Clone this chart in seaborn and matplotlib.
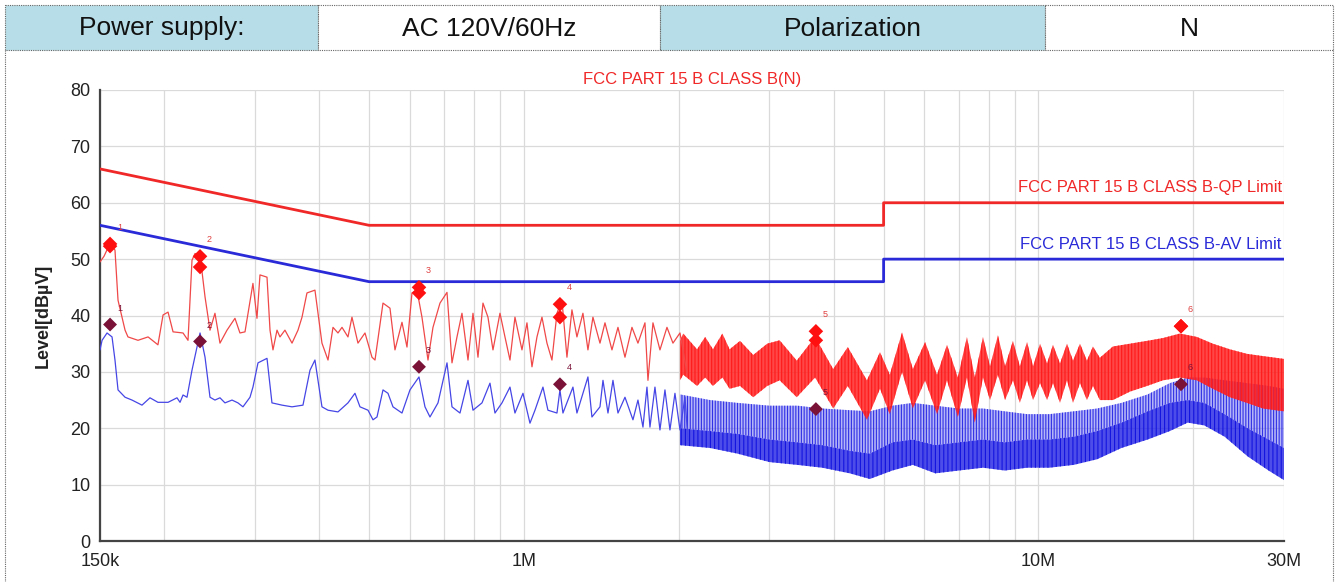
import matplotlib
matplotlib.use("Agg")
import matplotlib.pyplot as plt
import seaborn as sns
from matplotlib.patches import Rectangle
from matplotlib.ticker import FixedLocator, FixedFormatter, NullFormatter

# ---------------- data ----------------
header_labels = ["Power supply:", "AC 120V/60Hz", "Polarization", "N"]
chart_title = "FCC PART 15 B CLASS B(N)"
qp_limit_label = "FCC PART 15 B CLASS B-QP Limit"
av_limit_label = "FCC PART 15 B CLASS B-AV Limit"
y_label = "Level[dBµV]"

x_tick_values = [0.15, 1.0, 10.0, 30.0]
x_tick_labels = ["150k", "1M", "10M", "30M"]
x_minor_values = [0.2, 0.3, 0.4, 0.5, 0.6, 0.7, 0.8, 0.9,
                  2, 3, 4, 5, 6, 7, 8, 9, 20]
y_tick_values = [0, 10, 20, 30, 40, 50, 60, 70, 80]

limit_freq_mhz = [0.15, 0.5, 5.0, 5.0, 30.0]
qp_limit_db = [66, 56, 56, 60, 60]
av_limit_db = [56, 46, 46, 50, 50]

# peak (red) scan, 150 kHz - 2 MHz
peak_freq_mhz = [
    0.1500, 0.1527, 0.1569, 0.1604, 0.1626, 0.1678, 0.1700, 0.1778, 0.1860, 0.1944,
    0.1989, 0.2034, 0.2080, 0.2175, 0.2224, 0.2264, 0.2295, 0.2347, 0.2400, 0.2454,
    0.2509, 0.2566, 0.2648, 0.2744, 0.2806, 0.2870, 0.2974, 0.3028, 0.3069, 0.3167,
    0.3210, 0.3253, 0.3312, 0.3356, 0.3432, 0.3542, 0.3638, 0.3704, 0.3787, 0.3925,
    0.4050, 0.4161, 0.4255, 0.4351, 0.4430, 0.4550, 0.4632, 0.4758, 0.4910, 0.5066,
    0.5135, 0.5322, 0.5491, 0.5615, 0.5794, 0.5925, 0.6059, 0.6196, 0.6336, 0.6509,
    0.6656, 0.6868, 0.7087, 0.7247, 0.7411, 0.7578, 0.7785, 0.7961, 0.8141, 0.8325,
    0.8513, 0.8706, 0.8983, 0.9186, 0.9394, 0.9606, 0.9912, 1.0136, 1.0366, 1.0600,
    1.0840, 1.1085, 1.1335, 1.1592, 1.1854, 1.2122, 1.2396, 1.2676, 1.3021, 1.3316,
    1.3617, 1.4053, 1.4371, 1.4827, 1.5231, 1.5716, 1.6215, 1.6656, 1.7187, 1.7419,
    1.7813, 1.8380, 1.8965, 1.9481, 2.0102, 2.0742]
peak_level_db = [
    49.5, 50.5, 52.8, 51.6, 42.7, 37.4, 36.2, 35.6, 36.2, 34.8,
    40.1, 40.6, 37.1, 36.9, 35.6, 49.8, 51.0, 50.7, 43.3, 37.4,
    40.4, 35.1, 37.4, 39.5, 36.9, 37.1, 45.7, 39.5, 47.2, 46.8,
    37.4, 33.9, 37.4, 36.2, 37.4, 35.1, 37.4, 39.7, 44.0, 44.5,
    35.1, 32.1, 37.9, 36.9, 37.9, 36.2, 39.7, 35.1, 36.9, 32.6,
    32.1, 42.2, 41.3, 33.9, 38.8, 34.4, 44.0, 44.5, 39.7, 32.1,
    37.9, 42.2, 44.1, 31.6, 36.2, 40.4, 32.1, 40.4, 32.6, 42.2,
    39.7, 33.9, 40.4, 36.2, 32.1, 39.7, 33.9, 38.7, 30.9, 36.2,
    39.7, 35.1, 32.1, 40.4, 42.7, 32.6, 41.0, 36.2, 40.4, 33.9,
    39.7, 35.1, 38.7, 33.9, 37.9, 32.6, 37.9, 35.1, 38.7, 28.5,
    38.7, 33.9, 37.9, 35.1, 36.9, 29.8]

# peak (red) scan, 2 - 30 MHz dense region: envelope at each wave extreme
red_band_freq_mhz = [
    2.01, 2.04, 2.17, 2.25, 2.33, 2.43, 2.51, 2.63, 2.79, 2.97,
    3.14, 3.39, 3.68, 3.99, 4.26, 4.64, 4.92, 5.14, 5.43, 5.70,
    6.02, 6.35, 6.64, 6.97, 7.26, 7.52, 7.80, 8.05, 8.34, 8.61,
    8.92, 9.20, 9.50, 9.76, 10.07, 10.39, 10.67, 11.01, 11.36, 11.67,
    12.04, 12.42, 12.76, 13.16, 13.95, 15.06, 16.25, 17.45, 18.83, 20.31,
    21.82, 23.55, 25.41, 27.30, 30.0]
red_band_upper_db = [
    35.5, 36.8, 34.0, 36.2, 34.0, 36.8, 34.0, 35.5, 33.0, 35.0,
    35.6, 32.0, 36.2, 30.5, 34.4, 28.5, 33.5, 29.5, 37.0, 30.5,
    35.3, 29.5, 34.8, 29.0, 36.2, 29.0, 36.2, 31.0, 36.5, 31.0,
    35.5, 31.0, 35.3, 31.0, 35.0, 31.5, 34.8, 31.5, 35.0, 32.0,
    35.0, 32.0, 34.5, 32.5, 34.5, 35.0, 35.5, 36.0, 36.8, 36.2,
    35.0, 34.0, 33.2, 32.8, 32.3]
red_band_lower_db = [
    28.5, 29.5, 27.5, 29.0, 27.5, 29.0, 27.0, 27.5, 25.5, 27.5,
    28.5, 25.5, 29.0, 23.5, 27.5, 21.5, 27.0, 22.5, 30.0, 23.5,
    28.5, 22.5, 28.5, 22.0, 29.0, 21.0, 29.0, 25.0, 29.5, 25.0,
    28.5, 24.5, 28.5, 25.0, 28.0, 25.0, 28.0, 24.5, 28.5, 24.5,
    28.0, 25.0, 27.5, 25.0, 25.0, 26.5, 27.5, 28.5, 29.0, 28.5,
    27.0, 25.5, 24.5, 23.5, 23.0]

# average (blue) scan, 150 kHz - 2 MHz
avg_freq_mhz = [
    0.1500, 0.1514, 0.1548, 0.1583, 0.1604, 0.1626, 0.1678, 0.1731, 0.1810, 0.1876,
    0.1944, 0.2034, 0.2117, 0.2146, 0.2175, 0.2214, 0.2264, 0.2347, 0.2400, 0.2454,
    0.2509, 0.2566, 0.2624, 0.2708, 0.2781, 0.2844, 0.2935, 0.2974, 0.3042, 0.3167,
    0.3238, 0.3387, 0.3542, 0.3720, 0.3839, 0.3925, 0.4050, 0.4161, 0.4351, 0.4550,
    0.4695, 0.4801, 0.4977, 0.5089, 0.5181, 0.5322, 0.5442, 0.5565, 0.5794, 0.6005,
    0.6252, 0.6422, 0.6567, 0.6807, 0.7087, 0.7247, 0.7511, 0.7785, 0.7961, 0.8288,
    0.8590, 0.8784, 0.9064, 0.9394, 0.9606, 0.9957, 1.0273, 1.0506, 1.0888, 1.1134,
    1.1592, 1.1748, 1.1907, 1.2452, 1.2676, 1.3316, 1.3556, 1.4053, 1.4243, 1.4565,
    1.4894, 1.5231, 1.5716, 1.6288, 1.6656, 1.7034, 1.7341, 1.7575, 1.7973, 1.8380,
    1.8795, 1.9220, 1.9655, 2.0102, 2.0558, 2.0835]
avg_level_db = [
    33.9, 35.6, 36.9, 36.2, 32.1, 26.8, 25.5, 25.0, 24.1, 25.4,
    24.6, 24.6, 25.4, 24.6, 25.9, 25.5, 30.3, 36.9, 32.6, 25.5,
    25.0, 25.4, 24.5, 25.0, 24.5, 23.8, 25.5, 27.3, 31.6, 32.4,
    24.5, 24.1, 23.8, 24.1, 30.3, 32.1, 23.8, 23.2, 22.9, 24.5,
    26.2, 23.8, 23.2, 21.5, 22.0, 26.8, 26.2, 23.8, 22.7, 26.8,
    29.1, 23.8, 22.0, 24.5, 31.6, 23.8, 22.7, 28.5, 23.2, 24.5,
    28.0, 22.7, 24.5, 27.3, 22.7, 26.2, 20.9, 23.2, 27.3, 23.2,
    22.7, 26.8, 22.7, 27.3, 22.7, 29.1, 22.0, 23.8, 28.5, 22.7,
    28.5, 22.7, 25.5, 21.5, 25.0, 20.2, 27.3, 20.2, 27.3, 19.7,
    26.8, 19.7, 26.2, 19.7, 25.5, 17.9]

# average (blue) scan, 2 - 30 MHz dense region
blue_band_freq_mhz = [
    2.01, 2.3, 2.6, 3.0, 3.4, 3.8, 4.3, 4.7, 5.2, 5.7,
    6.3, 7.0, 7.8, 8.6, 9.5, 10.5, 11.7, 13.0, 14.5, 16.3,
    18.0, 19.5, 21.0, 23.0, 25.5, 28.0, 30.0]
blue_band_lower_db = [
    17.0, 16.5, 15.5, 14.0, 13.5, 13.0, 12.0, 11.0, 12.5, 13.5,
    12.0, 12.5, 13.0, 12.5, 13.0, 13.0, 13.5, 14.5, 16.5, 18.0,
    19.5, 21.0, 20.5, 18.5, 15.0, 12.5, 10.8]
blue_band_base_db = [
    20.0, 19.5, 19.0, 18.0, 17.5, 17.0, 16.0, 15.5, 17.5, 18.0,
    17.0, 17.5, 18.0, 17.5, 18.0, 18.0, 18.5, 19.5, 21.0, 23.0,
    24.5, 25.0, 24.5, 22.5, 20.0, 18.0, 16.5]
blue_band_top_db = [
    26.0, 25.0, 24.5, 24.0, 24.0, 23.5, 23.2, 23.0, 24.0, 24.5,
    24.0, 23.5, 23.5, 23.0, 22.5, 22.5, 23.0, 23.5, 24.5, 26.0,
    28.0, 29.0, 29.0, 28.5, 28.0, 27.5, 27.0]

# final measurement markers
marker_ids = ["1", "2", "3", "4", "5", "6"]
marker_freq_mhz = [0.1569, 0.2347, 0.6252, 1.1748, 3.693, 18.92]
marker_peak_db = [52.7, 50.5, 45.0, 42.0, 37.2, 38.1]
marker_qp_db = [52.3, 48.6, 44.0, 39.7, 35.6, 38.1]
marker_av_db = [38.4, 35.4, 30.9, 27.8, 23.4, 27.8]

# ---------------- style ----------------
sns.set_style("white")
plt.rcParams["font.family"] = ["Liberation Sans", "DejaVu Sans"]
plt.rcParams["hatch.linewidth"] = 0.8

RED = "#f02828"
RED_TRACE = "#f04848"
BLUE = "#2a2ad8"
BLUE_TRACE = "#4646e6"
MAROON = "#7a1238"
HEADER_BLUE = "#b7dee8"

W, H = 1338, 582
fig = plt.figure(figsize=(W / 100, H / 100), dpi=100)
fig.patch.set_facecolor("white")

# header / frame overlay (pixel coordinates)
hax = fig.add_axes([0, 0, 1, 1])
hax.set_xlim(0, W)
hax.set_ylim(H, 0)
hax.axis("off")
hax.patch.set_visible(False)
cells = [(5, 318, HEADER_BLUE), (318, 660, "white"), (660, 1045, HEADER_BLUE), (1045, 1333, "white")]
for (x0, x1, fc), txt in zip(cells, header_labels):
    hax.add_patch(Rectangle((x0, 5), x1 - x0, 45, facecolor=fc, edgecolor="#666666",
                            linestyle=(0, (1, 1)), linewidth=0.8))
    hax.text((x0 + x1) / 2, 28.5, txt, ha="center", va="center", fontsize=19, color="#111111")
hax.plot([5, 5], [50, H], color="#666666", linestyle=(0, (1, 1)), linewidth=0.8)
hax.plot([1333, 1333], [50, H], color="#666666", linestyle=(0, (1, 1)), linewidth=0.8)

ax = fig.add_axes([100 / W, 41 / H, 1184 / W, 451 / H])
ax.set_xscale("log")

# dense-region bands
ax.fill_between(blue_band_freq_mhz, blue_band_base_db, blue_band_top_db,
                facecolor=(0.42, 0.42, 0.95, 0.5), edgecolor="#3030e6",
                hatch="||||||", linewidth=0, zorder=2)
ax.fill_between(blue_band_freq_mhz, blue_band_lower_db, blue_band_base_db,
                facecolor=(0.15, 0.15, 0.9, 0.82), edgecolor="#1414e0",
                hatch="||||", linewidth=0, zorder=2)
ax.fill_between(red_band_freq_mhz, red_band_lower_db, red_band_upper_db,
                facecolor=(1.0, 0.12, 0.12, 0.82), edgecolor="#ff1a1a",
                hatch="|||||", linewidth=0, zorder=3)

# traces
sns.lineplot(x=avg_freq_mhz, y=avg_level_db, ax=ax, color=BLUE_TRACE, linewidth=0.9,
             estimator=None, sort=False, zorder=3)
sns.lineplot(x=peak_freq_mhz, y=peak_level_db, ax=ax, color=RED_TRACE, linewidth=0.9,
             estimator=None, sort=False, zorder=3)

# limits
sns.lineplot(x=limit_freq_mhz, y=qp_limit_db, ax=ax, color=RED, linewidth=2,
             estimator=None, sort=False, zorder=4)
sns.lineplot(x=limit_freq_mhz, y=av_limit_db, ax=ax, color=BLUE, linewidth=2,
             estimator=None, sort=False, zorder=4)

# markers
sns.scatterplot(x=marker_freq_mhz, y=marker_peak_db, ax=ax, marker="D", s=55,
                color="#ff1010", edgecolor="none", zorder=6)
sns.scatterplot(x=marker_freq_mhz, y=marker_qp_db, ax=ax, marker="D", s=55,
                color="#ff1010", edgecolor="none", zorder=6)
sns.scatterplot(x=marker_freq_mhz, y=marker_av_db, ax=ax, marker="D", s=50,
                color=MAROON, edgecolor="none", zorder=6)
for f, p, a, lab in zip(marker_freq_mhz, marker_peak_db, marker_av_db, marker_ids):
    ax.annotate(lab, (f, p), xytext=(5, 10), textcoords="offset points",
                fontsize=6.5, color="#e04040", zorder=7)
    ax.annotate(lab, (f, a), xytext=(5, 10), textcoords="offset points",
                fontsize=6.5, color=MAROON, zorder=7)

# limit labels
ax.text(29.7, qp_limit_db[-1] + 1.3, qp_limit_label, ha="right", va="bottom",
        fontsize=12, color=RED, zorder=7)
ax.text(29.7, av_limit_db[-1] + 1.3, av_limit_label, ha="right", va="bottom",
        fontsize=12, color=BLUE, zorder=7)

ax.set_title(chart_title, color=RED, fontsize=12, pad=4)

# axes
ax.set_xlim(0.15, 30)
ax.set_ylim(0, 80)
ax.xaxis.set_major_locator(FixedLocator(x_tick_values))
ax.xaxis.set_major_formatter(FixedFormatter(x_tick_labels))
ax.xaxis.set_minor_locator(FixedLocator(x_minor_values))
ax.xaxis.set_minor_formatter(NullFormatter())
ax.yaxis.set_major_locator(FixedLocator(y_tick_values))
ax.set_axisbelow(True)
ax.grid(True, which="both", axis="x", color="#dadada", linewidth=0.9)
ax.grid(True, which="major", axis="y", color="#dadada", linewidth=0.9)
for side in ["top", "right"]:
    ax.spines[side].set_visible(False)
for side in ["left", "bottom"]:
    ax.spines[side].set_color("#444444")
    ax.spines[side].set_linewidth(1.6)
ax.tick_params(axis="x", which="both", direction="inout", length=8, width=1,
               color="#444444", labelsize=13, labelcolor="#222222", pad=5)
ax.tick_params(axis="y", which="both", direction="out", length=5, width=1,
               color="#444444", labelsize=13, labelcolor="#222222", pad=2)
ax.set_xlabel("")
ax.set_ylabel(y_label, fontsize=13, fontweight="bold", color="#222222", labelpad=13)

fig.savefig("out.png", dpi=100, facecolor="white")
